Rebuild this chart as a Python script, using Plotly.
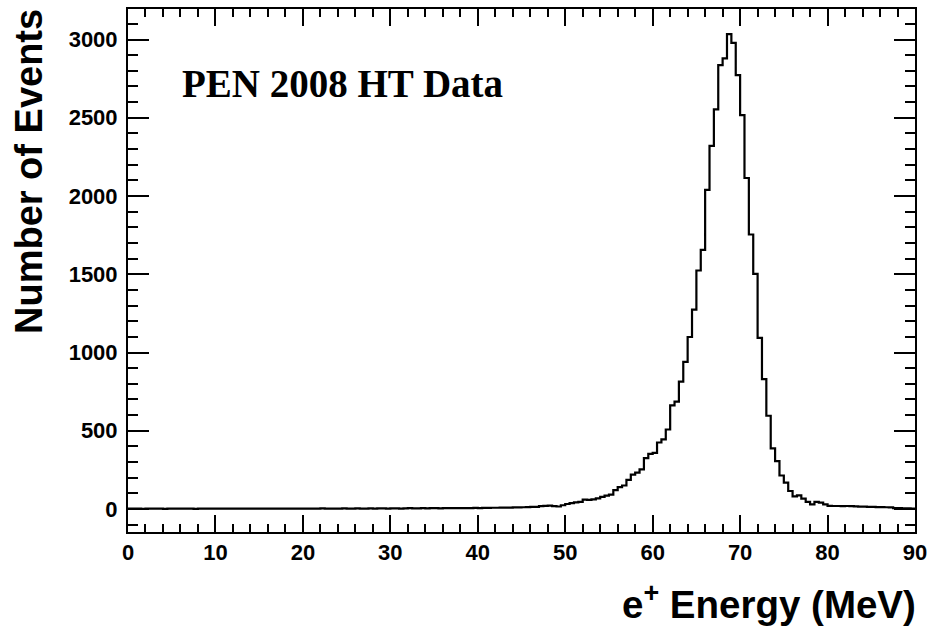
import numpy as np
import plotly.graph_objects as go

# Histogram: 180 bins of 0.5 MeV from 0 to 90 MeV
bin_width = 0.5
x_min, x_max = 0.0, 90.0

counts = [
    # 0-10
    2, 3, 2, 1, 2, 3, 2, 2, 1, 2, 3, 2, 2, 3, 2, 1, 2, 2, 3, 2,
    # 10-20
    2, 3, 2, 3, 2, 2, 3, 2, 3, 2, 2, 3, 3, 2, 3, 2, 3, 3, 2, 3,
    # 20-30
    3, 2, 3, 3, 4, 3, 3, 2, 3, 4, 3, 3, 4, 3, 3, 4, 3, 4, 4, 3,
    # 30-40
    4, 4, 3, 4, 5, 4, 4, 5, 4, 5, 5, 4, 5, 6, 5, 5, 6, 5, 6, 7,
    # 40-45
    6, 7, 7, 8, 8, 9, 9, 9, 10, 10,
    # 45-50
    11, 12, 13, 14, 18, 20, 22, 18, 16, 24,
    # 50-55
    32, 38, 42, 45, 60, 58, 62, 68, 78, 86,
    # 55-60
    92, 120, 140, 150, 186, 220, 232, 253, 325, 352,
    # 60-65
    358, 425, 445, 508, 662, 686, 814, 940, 1099, 1274,
    # 65-70
    1524, 1656, 2039, 2320, 2553, 2836, 2879, 3035, 2979, 2772,
    # 70-75
    2517, 2115, 1754, 1503, 1093, 830, 596, 387, 306, 214,
    # 75-80
    168, 115, 81, 87, 66, 45, 30, 45, 41, 30,
    # 80-85
    20, 19, 19, 18, 19, 18, 17, 15, 15, 14,
    # 85-90
    13, 12, 12, 11, 10, 6, 5, 4, 4, 3,
]

x_ticks = [0, 10, 20, 30, 40, 50, 60, 70, 80, 90]
y_ticks = [0, 500, 1000, 1500, 2000, 2500, 3000]
y_range = [-147, 3195]

title_text = "PEN 2008 HT Data"
x_title = "e<sup>+</sup> Energy (MeV)"
y_title = "Number of Events"

n_bins = len(counts)
edges = x_min + bin_width * np.arange(n_bins + 1)
step_x = list(edges)
step_y = list(counts) + [counts[-1]]

fig = go.Figure()
fig.add_trace(go.Scatter(
    x=step_x, y=step_y, mode="lines",
    line=dict(shape="hv", color="black", width=2.2),
    hoverinfo="skip", showlegend=False,
))

tick_font = dict(family="Liberation Sans, Arial, sans-serif", size=22, color="black", weight="bold")

fig.update_layout(
    width=933, height=635,
    margin=dict(l=128, r=18, t=9, b=103),
    paper_bgcolor="white", plot_bgcolor="white",
    showlegend=False,
    xaxis=dict(
        range=[x_min, x_max], tickvals=x_ticks, ticktext=[str(v) for v in x_ticks],
        ticks="inside", ticklen=17, tickwidth=2, tickcolor="black",
        showline=True, linewidth=2, linecolor="black", mirror="allticks",
        showgrid=False, zeroline=False, automargin=False,
        tickfont=tick_font, ticklabelstandoff=0,
        minor=dict(dtick=2, ticks="inside", ticklen=8, tickwidth=2, tickcolor="black", showgrid=False),
    ),
    yaxis=dict(
        range=y_range, tickvals=y_ticks, ticktext=[str(v) for v in y_ticks],
        ticks="inside", ticklen=21, tickwidth=2, tickcolor="black",
        showline=True, linewidth=2, linecolor="black", mirror="allticks",
        showgrid=False, zeroline=False, automargin=False,
        tickfont=tick_font, ticklabelstandoff=4,
        minor=dict(dtick=100, ticks="inside", ticklen=10, tickwidth=2, tickcolor="black", showgrid=False),
    ),
    annotations=[
        dict(text=f"<b>{title_text}</b>", xref="paper", yref="paper",
             x=0.0665, y=0.857, xanchor="left", yanchor="middle", showarrow=False,
             font=dict(family="Liberation Serif, Times New Roman, serif", size=39, color="black")),
        dict(text=f"<b>{x_title}</b>", xref="paper", yref="paper",
             x=1.004, y=-0.133, xanchor="right", yanchor="middle", showarrow=False,
             font=dict(family="Liberation Sans, Arial, sans-serif", size=38.5, color="black")),
        dict(text=f"<b>{y_title}</b>", xref="paper", yref="paper",
             x=-0.1266, y=0.689, xanchor="center", yanchor="middle", showarrow=False,
             textangle=-90,
             font=dict(family="Liberation Sans, Arial, sans-serif", size=38, color="black")),
    ],
)

fig.write_html("out.html", config={"displayModeBar": False},
               post_script="document.body.style.margin='0';")
